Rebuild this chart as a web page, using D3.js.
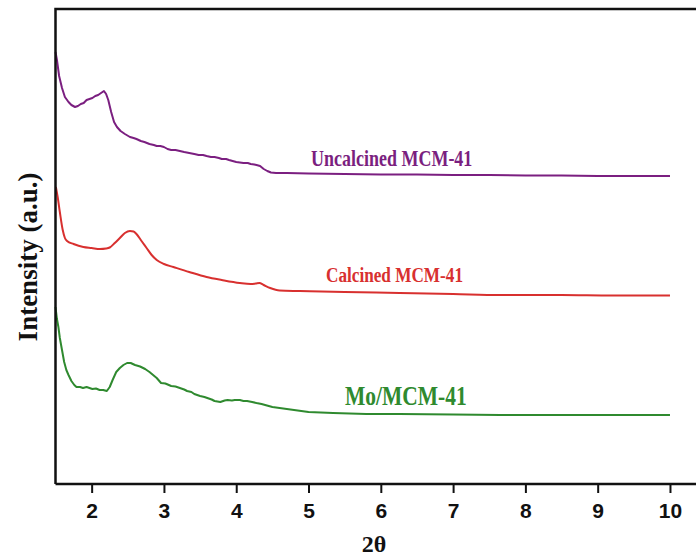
<!DOCTYPE html>
<html>
<head>
<meta charset="utf-8">
<script src="https://cdn.jsdelivr.net/npm/d3@7"></script>
<style>
  html, body { margin: 0; padding: 0; background: #fff; }
  svg { display: block; }
</style>
</head>
<body>
<svg id="chart" width="696" height="556"></svg>
<script>
// Low-angle XRD patterns, intensity in arbitrary units (offset stacked)
const xTicks = [2, 3, 4, 5, 6, 7, 8, 9, 10];

const uncalcined = [
  [1.50, 432],[1.52, 424],[1.55, 408],[1.59, 396],[1.63, 387],[1.68, 382],[1.72, 379],
  [1.77, 377],[1.81, 378],[1.85, 380],[1.89, 381],[1.93, 384],[1.97, 385],[2.01, 386],
  [2.05, 388],[2.09, 389],[2.13, 391],[2.17, 393],[2.20, 390],[2.23, 384],[2.27, 372],
  [2.31, 362],[2.35, 357],[2.40, 353],[2.46, 350],[2.53, 347],[2.58, 346],[2.62, 345],
  [2.68, 343],[2.73, 342],[2.80, 340],[2.86, 339],[2.90, 338],[2.95, 338],[3.00, 337],
  [3.05, 335],[3.10, 334],[3.16, 334],[3.22, 333],[3.28, 332],[3.35, 331],[3.42, 330],
  [3.48, 329],[3.54, 329],[3.59, 328],[3.65, 327],[3.70, 327],[3.76, 326],[3.80, 325],
  [3.86, 325],[3.90, 324],[3.95, 323],[4.00, 322],[4.05, 321.5],[4.10, 321],[4.16, 321],
  [4.20, 320],[4.25, 319.5],[4.28, 319],[4.33, 318],[4.38, 315],[4.43, 313],[4.48, 311.5],
  [4.55, 311],[4.70, 311],[5.00, 310.5],[5.50, 310],[6.00, 309.5],[6.50, 309.5],[7.00, 309],
  [7.50, 309],[8.00, 308.5],[8.50, 308.5],[9.00, 308],[9.50, 308],[10.00, 308]
];

const calcined = [
  [1.505, 297],[1.53, 287],[1.56, 272],[1.60, 254],[1.63, 246],[1.66, 243],[1.75, 240],
  [1.885, 237],[2.00, 236],[2.115, 235],[2.20, 235.5],[2.25, 236.5],[2.32, 241],[2.39, 246],
  [2.46, 251],[2.53, 253],[2.58, 252.5],[2.62, 250],[2.69, 243],[2.76, 236],[2.83, 229],
  [2.90, 224],[3.00, 220],[3.13, 217],[3.35, 212],[3.59, 207],[3.80, 204],[4.05, 201],
  [4.20, 200],[4.27, 200.5],[4.32, 201],[4.38, 199],[4.47, 196],[4.60, 193.5],[4.88, 193],
  [5.50, 192],[6.26, 191],[7.00, 190],[7.65, 189],[8.50, 189],[9.20, 188.5],[10.00, 188.5]
];

const moMcm = [
  [1.50, 177],[1.52, 165],[1.54, 157],[1.56, 146],[1.59, 134],[1.62, 122],[1.65, 114],
  [1.68, 109],[1.72, 103],[1.76, 99],[1.79, 97],[1.84, 97],[1.88, 96],[1.93, 97],
  [1.97, 96],[2.01, 95],[2.06, 95.5],[2.11, 94],[2.16, 94],[2.21, 93],[2.25, 97],
  [2.29, 104],[2.34, 112],[2.39, 116],[2.44, 119],[2.49, 121],[2.54, 121],[2.60, 119],
  [2.67, 117.5],[2.74, 115],[2.80, 112],[2.85, 109],[2.90, 106],[2.96, 101],[3.02, 100.5],
  [3.10, 98],[3.16, 97.5],[3.22, 96],[3.28, 94.5],[3.32, 93],[3.38, 92],[3.42, 90],
  [3.50, 88],[3.56, 87],[3.60, 86],[3.66, 84.5],[3.70, 83],[3.78, 82],[3.84, 83.5],
  [3.88, 84],[3.94, 83.5],[3.98, 84],[4.05, 84],[4.10, 83],[4.15, 83],[4.22, 82],
  [4.28, 81],[4.35, 80],[4.40, 79],[4.50, 77],[4.60, 76],[4.70, 75],[4.80, 74],
  [5.00, 72],[5.34, 71],[5.80, 70],[6.26, 70],[7.00, 69.5],[7.65, 69],[8.50, 69],
  [9.20, 69],[10.00, 69]
];

const seriesNames = ["Uncalcined MCM-41", "Calcined MCM-41", "Mo/MCM-41"];
const seriesColors = ["#7b1f80", "#d8302f", "#2f8a2f"];

const svg = d3.select("#chart");

const x = d3.scaleLinear().domain([1.5, 10.36]).range([55.5, 696]);
const y = d3.scaleLinear().domain([0, 475]).range([484, 9]);

const line = d3.line().x(d => x(d[0])).y(d => y(d[1]));
const smoothLine = d3.line().curve(d3.curveMonotoneX).x(d => x(d[0])).y(d => y(d[1]));

// Curves
[[uncalcined, line], [calcined, smoothLine], [moMcm, line]].forEach(([data, gen], i) => {
  svg.append("path")
    .datum(data)
    .attr("fill", "none")
    .attr("stroke", seriesColors[i])
    .attr("stroke-width", 2)
    .attr("stroke-linejoin", "round")
    .attr("d", gen);
});

// Frame: left and top edges (the frame runs off the right side)
svg.append("path")
  .attr("d", `M${x(10.36)},${y(475)} H${x(1.5)} V${y(0)}`)
  .attr("fill", "none")
  .attr("stroke", "#111")
  .attr("stroke-width", 2.5);

// Bottom axis
const xAxis = svg.append("g")
  .attr("transform", `translate(0,${y(0)})`)
  .call(d3.axisBottom(x).tickValues(xTicks).tickSize(9).tickPadding(10).tickFormat(d3.format("d")));
xAxis.select(".domain").attr("stroke", "#111").attr("stroke-width", 2.5)
  .attr("d", `M${x(1.5)},0H${x(10.36)}`);
xAxis.selectAll(".tick line").attr("stroke", "#111").attr("stroke-width", 2);
xAxis.selectAll(".tick text")
  .attr("fill", "#111")
  .style("font-family", "'Liberation Sans', Arial, sans-serif")
  .style("font-weight", "bold")
  .style("font-size", "21px");

// Axis titles
svg.append("text")
  .attr("transform", "translate(37,257) rotate(-90)")
  .attr("text-anchor", "middle")
  .style("font-family", "'Liberation Serif', 'Times New Roman', serif")
  .style("font-weight", "bold")
  .style("font-size", "27px")
  .attr("fill", "#111")
  .text("Intensity (a.u.)");

svg.append("text")
  .attr("x", 374)
  .attr("y", 552)
  .attr("text-anchor", "middle")
  .style("font-family", "'Liberation Serif', 'Times New Roman', serif")
  .style("font-size", "24px")
  .style("font-weight", "bold")
  .attr("fill", "#111")
  .text("2θ");

// Curve labels
const labelPos = [
  { x: 311, y: 166, size: 18 },
  { x: 326, y: 282, size: 17.2 },
  { x: 345, y: 405, size: 21.5 }
];
seriesNames.forEach((name, i) => {
  const p = labelPos[i];
  svg.append("text")
    .attr("transform", `translate(${p.x},${p.y}) scale(1,1.25)`)
    .style("font-family", "'Liberation Serif', 'Times New Roman', serif")
    .style("font-weight", "bold")
    .style("font-size", p.size + "px")
    .attr("fill", seriesColors[i])
    .text(name);
});
</script>
</body>
</html>
